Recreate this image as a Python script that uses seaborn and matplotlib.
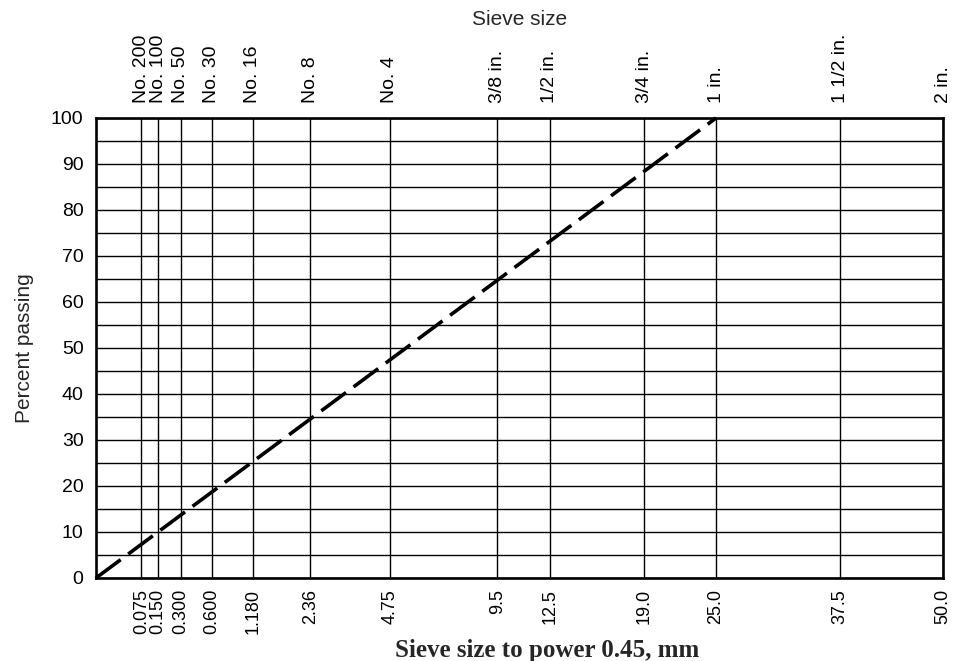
import numpy as np
import pandas as pd
import matplotlib
matplotlib.use("Agg")
import matplotlib.pyplot as plt
import seaborn as sns

# Sieve openings (mm) and their designations
sieve_mm = [0.075, 0.150, 0.300, 0.600, 1.180, 2.36, 4.75, 9.5, 12.5, 19.0, 25.0, 37.5, 50.0]
sieve_mm_labels = ["0.075", "0.150", "0.300", "0.600", "1.180", "2.36", "4.75",
                   "9.5", "12.5", "19.0", "25.0", "37.5", "50.0"]
sieve_names = ["No. 200", "No. 100", "No. 50", "No. 30", "No. 16", "No. 8", "No. 4",
               "3/8 in.", "1/2 in.", "3/4 in.", "1 in.", "1 1/2 in.", "2 in."]

# Maximum density line for 25 mm maximum size
mdl_size = [0.0, 25.0]
mdl_passing = [0.0, 100.0]

y_ticks = list(range(0, 101, 10))
y_grid = list(range(0, 101, 5))

POWER = 0.45

sns.set_theme(style="white")
plt.rcParams["font.family"] = ["Liberation Sans", "DejaVu Sans"]

fig = plt.figure(figsize=(9.57, 6.61), dpi=100)
ax = fig.add_axes([0.1003, 0.1256, 0.8851, 0.6959])

fwd = lambda x: np.power(np.clip(x, 0, None), POWER)
inv = lambda x: np.power(np.clip(x, 0, None), 1.0 / POWER)
ax.set_xscale("function", functions=(fwd, inv))
ax.set_xlim(0, 50.0)
ax.set_ylim(0, 100)

# grid: sieve verticals and 5 % horizontals
for s in sieve_mm:
    ax.axvline(s, color="black", lw=1.0, zorder=1)
for g in y_grid:
    ax.axhline(g, color="black", lw=1.0, zorder=1)

df = pd.DataFrame({"size": mdl_size, "passing": mdl_passing})
sns.lineplot(data=df, x="size", y="passing", ax=ax, color="black", lw=2.6,
             linestyle=(0, (8.5, 2.6)), zorder=3, clip_on=False)

ax.set_xticks(sieve_mm)
ax.set_xticklabels(sieve_mm_labels, rotation=90, fontsize=13)
ax.xaxis.set_minor_locator(matplotlib.ticker.NullLocator())
ax.set_yticks(y_ticks)
ax.set_yticklabels([str(t) for t in y_ticks], fontsize=14)
ax.tick_params(axis="x", length=0, pad=8, colors="black")
ax.tick_params(axis="y", length=0, pad=9, colors="black")

for sp in ax.spines.values():
    sp.set_color("black")
    sp.set_linewidth(1.9)
    sp.set_zorder(4)

ax.set_xlabel("Sieve size to power 0.45, mm", fontsize=18, fontweight="bold",
              family=["Liberation Serif", "DejaVu Serif"], labelpad=3)
ax.xaxis.label.set_x(0.533)
ax.set_ylabel("Percent passing", fontsize=15, labelpad=12)

# top axis carrying the sieve designations on the same 0.45-power scale
top = ax.twiny()
top.set_xscale("function", functions=(fwd, inv))
top.set_xlim(ax.get_xlim())
top.set_xticks(sieve_mm)
top.set_xticklabels(sieve_names, rotation=90, fontsize=14)
top.xaxis.set_minor_locator(matplotlib.ticker.NullLocator())
top.tick_params(axis="x", length=0, pad=11, colors="black")
for sp in top.spines.values():
    sp.set_visible(False)
top.grid(False)
top.set_xlabel("Sieve size", fontsize=15, labelpad=6)

fig.savefig("out.png", dpi=100, facecolor="white")
